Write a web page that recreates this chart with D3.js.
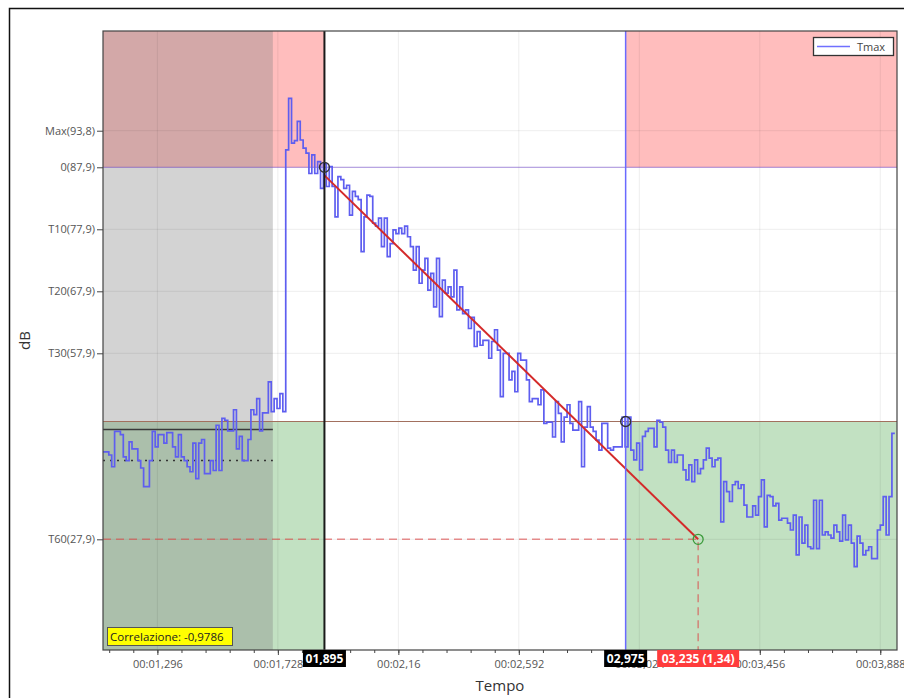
<!DOCTYPE html>
<html>
<head>
<meta charset="UTF-8">
<title>Tmax</title>
<script src="https://cdn.jsdelivr.net/npm/d3@7"></script>
<style>
  body { margin: 0; background: #fff; }
  svg text { font-family: "Open Sans", "Noto Sans", sans-serif; }
</style>
</head>
<body>
<svg id="chart" width="904" height="698"></svg>
<script>
// Tmax level in dB, one value per frame (step curve)
const noiseDb = [42.0, 42.0, 41.5, 39.6, 45.3, 45.3, 44.8, 41.2, 40.6, 43.6, 42.5, 42.5, 40.6, 39.4, 36.4, 36.4,
  40.6, 45.3, 42.8, 44.8, 44.8, 43.4, 45.1, 45.1, 42.8, 41.2, 44.8, 41.2, 40.6, 39.6, 38.8, 43.4, 37.7, 43.4,
  44.0, 38.5, 38.5, 40.6, 39.0, 46.3, 39.0, 47.4, 47.1, 45.4, 45.4, 48.8, 42.5, 44.5, 40.6, 40.6, 44.0, 48.8,
  48.0, 50.6, 45.4, 48.3, 48.3, 53.3, 48.5, 50.6, 49.0, 51.4, 48.5];
const onsetDb = [90.7, 99.0, 91.8, 92.2, 95.3, 92.3, 91.0, 90.2, 86.9, 89.9, 86.9, 88.8, 84.5, 88.5, 84.8, 88.0,
  84.8, 79.9, 86.4, 85.9, 84.5, 85.0, 80.2, 84.0, 83.2, 82.7, 74.3, 79.9, 83.4, 83.2, 78.9, 78.4, 79.7, 75.1,
  79.7, 73.5, 75.6, 77.8, 77.2, 78.1, 77.2, 78.4, 76.7, 75.1, 71.3, 75.1, 69.2, 71.3, 73.2, 68.1, 70.8, 65.4,
  73.2, 63.8, 69.7, 67.6, 68.6, 67.0, 71.3, 64.9, 68.6, 64.3, 64.9, 61.9];
const decayDb = [63.7, 59.0, 61.4, 59.2, 60.0, 60.0, 57.1, 59.8, 61.7, 58.4, 50.9, 57.9, 57.9, 53.6, 55.0, 51.7,
  57.9, 56.8, 56.8, 53.6, 50.1, 50.6, 50.6, 49.6, 52.0, 46.6, 46.8, 46.8, 44.4, 50.1, 48.2, 43.6, 47.6, 49.6,
  46.6, 45.5, 45.5, 50.1, 39.6, 46.0, 49.3, 46.0, 45.3, 43.9, 42.3, 46.6, 46.6, 42.6, 42.3, 42.8, 42.8, 42.8,
  47.6, 42.8, 47.6, 42.3, 40.7, 43.4, 39.1, 44.5, 45.3, 45.8, 45.8, 42.8, 47.1, 46.8, 46.0, 42.3, 40.3, 42.3,
  40.3, 41.5, 41.5, 39.1];
const tailDb = [37.5, 39.9, 37.2, 40.7, 38.5, 39.3, 40.7, 42.6, 41.0, 39.6, 40.7, 41.0, 30.7, 37.2, 35.6, 34.0,
  36.7, 37.2, 36.1, 36.7, 33.4, 31.5, 31.5, 33.3, 31.8, 34.8, 37.5, 29.9, 35.0, 34.8, 33.3, 33.7, 31.0, 31.3,
  31.3, 30.5, 29.4, 31.8, 25.4, 31.5, 27.3, 30.2, 26.7, 26.4, 34.2, 26.4, 34.2, 28.6, 29.1, 28.6, 28.1, 30.2,
  29.1, 27.6, 31.8, 27.8, 30.2, 27.3, 23.5, 28.4, 27.3, 25.4, 26.1, 26.7, 24.8, 24.8, 29.4, 30.2, 34.8, 28.6,
  34.8, 45.0];
const frameStart = 1.101, frameStep = 0.0104;

const yTickValues = [93.8, 87.9, 77.9, 67.9, 57.9, 27.9];
const yTickLabels = ["Max(93,8)", "0(87,9)", "T10(77,9)", "T20(67,9)", "T30(57,9)", "T60(27,9)"];
const xTickValues = [1.296, 1.728, 2.16, 2.592, 3.024, 3.456, 3.888];
const xTickLabels = ["00:01,296", "00:01,728", "00:02,16", "00:02,592", "00:03,024", "00:03,456", "00:03,888"];

const cursorStart = 1.895, cursorEnd = 2.975, t60End = 3.235;
const refLevel = 87.9, endLevel = 46.9, t60Level = 27.9;
const noiseEnd = 1.71, noiseHigh = 45.6, noiseLow = 40.6;
const regStart = [1.895, 86.6], regEnd = [3.235, 27.9];
const cursorLabels = ["01,895", "02,975", "03,235 (1,34)"];
const corrLabel = "Correlazione: -0,9786";

const plotL = 103, plotR = 897, plotT = 31, plotB = 650;

const svg = d3.select("#chart");
const x = d3.scaleLinear().domain([1.101, 3.948]).range([plotL, plotR]);
const y = d3.scaleLinear().domain([10.05, 109.88]).range([plotB, plotT]);

// outer frame
svg.append("rect").attr("x", 9.5).attr("y", 8.5).attr("width", 1000).attr("height", 1000)
  .attr("fill", "none").attr("stroke", "#111").attr("stroke-width", 1.5);

svg.append("clipPath").attr("id", "plot").append("rect")
  .attr("x", plotL).attr("y", plotT).attr("width", plotR - plotL).attr("height", plotB - plotT);
const g = svg.append("g").attr("clip-path", "url(#plot)");

// shaded zones
const zones = [
  [x.domain()[0], cursorStart, refLevel, y.domain()[1], "rgba(255,0,0,0.26)"],
  [cursorEnd, x.domain()[1], refLevel, y.domain()[1], "rgba(255,0,0,0.26)"],
  [x.domain()[0], cursorStart, y.domain()[0], endLevel, "rgba(0,128,0,0.24)"],
  [cursorEnd, x.domain()[1], y.domain()[0], endLevel, "rgba(0,128,0,0.24)"],
  [x.domain()[0], noiseEnd, y.domain()[0], y.domain()[1], "rgba(128,128,128,0.35)"]
];
g.selectAll("rect.zone").data(zones).enter().append("rect").attr("class", "zone")
  .attr("x", d => x(d[0])).attr("width", d => x(d[1]) - x(d[0]))
  .attr("y", d => y(d[3])).attr("height", d => y(d[2]) - y(d[3]))
  .attr("fill", d => d[4]);

// grid
g.selectAll("line.gy").data(yTickValues).enter().append("line")
  .attr("x1", plotL).attr("x2", plotR).attr("y1", d => y(d)).attr("y2", d => y(d))
  .attr("stroke", "rgba(0,0,0,0.07)");
g.selectAll("line.gx").data(xTickValues).enter().append("line")
  .attr("y1", plotT).attr("y2", plotB).attr("x1", d => x(d)).attr("x2", d => x(d))
  .attr("stroke", "rgba(0,0,0,0.07)");

// level lines
g.append("line").attr("x1", plotL).attr("x2", plotR).attr("y1", y(refLevel)).attr("y2", y(refLevel))
  .attr("stroke", "rgba(120,80,210,0.6)");
g.append("line").attr("x1", plotL).attr("x2", plotR).attr("y1", y(endLevel)).attr("y2", y(endLevel))
  .attr("stroke", "#a2705e").attr("stroke-width", 1.2);
g.append("line").attr("x1", plotL).attr("x2", x(noiseEnd)).attr("y1", y(noiseHigh)).attr("y2", y(noiseHigh))
  .attr("stroke", "#3a3a3a").attr("stroke-width", 1.5);
g.append("line").attr("x1", plotL).attr("x2", x(noiseEnd)).attr("y1", y(noiseLow)).attr("y2", y(noiseLow))
  .attr("stroke", "#333").attr("stroke-width", 1.5).attr("stroke-dasharray", "2,5");
g.append("path")
  .attr("d", `M${plotL},${y(t60Level)}H${x(t60End)}V${plotB}`)
  .attr("fill", "none").attr("stroke", "rgba(220,70,70,0.6)").attr("stroke-width", 1.5)
  .attr("stroke-dasharray", "8,5");

// Tmax step curve
const levels = noiseDb.concat(onsetDb, decayDb, tailDb);
const frames = levels.map((v, i) => ({ t: frameStart + i * frameStep, v }));
frames.push({ t: frameStart + levels.length * frameStep, v: levels[levels.length - 1] });
g.append("path").datum(frames)
  .attr("d", d3.line().x(d => x(d.t)).y(d => y(d.v)).curve(d3.curveStepAfter))
  .attr("fill", "none").attr("stroke", "#5e5ef0").attr("stroke-width", 1.7)
  .attr("stroke-linejoin", "miter");

// regression
g.append("line").attr("x1", x(regStart[0])).attr("y1", y(regStart[1]))
  .attr("x2", x(regEnd[0])).attr("y2", y(regEnd[1]))
  .attr("stroke", "#d42a2a").attr("stroke-width", 2);

// cursors
g.append("line").attr("x1", x(cursorStart)).attr("x2", x(cursorStart)).attr("y1", plotT).attr("y2", plotB)
  .attr("stroke", "#1a1a1a").attr("stroke-width", 2);
g.append("line").attr("x1", x(cursorEnd)).attr("x2", x(cursorEnd)).attr("y1", plotT).attr("y2", plotB)
  .attr("stroke", "#6a6aff").attr("stroke-width", 1.5);

// markers
const markers = [[cursorStart, refLevel, "#333"], [cursorEnd, endLevel, "#333"], [t60End, t60Level, "#3a9a3a"]];
g.selectAll("circle").data(markers).enter().append("circle")
  .attr("cx", d => x(d[0])).attr("cy", d => y(d[1])).attr("r", 5)
  .attr("fill", "none").attr("stroke", d => d[2]).attr("stroke-width", 1.3);

// plot border
svg.append("rect").attr("x", plotL).attr("y", plotT).attr("width", plotR - plotL).attr("height", plotB - plotT)
  .attr("fill", "none").attr("stroke", "#444").attr("stroke-width", 1.2);

// axes
svg.append("g").attr("transform", `translate(${plotL},0)`)
  .call(d3.axisLeft(y).tickValues(yTickValues).tickFormat((d, i) => yTickLabels[i]).tickSize(6).tickPadding(2));
const minorTicks = d3.range(xTickValues[0] - 2 * 0.0864, x.domain()[1], 0.0864);
svg.append("g").attr("transform", `translate(0,${plotB})`)
  .call(d3.axisBottom(x).tickValues(minorTicks).tickFormat("").tickSize(3));
svg.append("g").attr("transform", `translate(0,${plotB})`)
  .call(d3.axisBottom(x).tickValues(xTickValues).tickFormat((d, i) => xTickLabels[i]).tickSize(5).tickPadding(5));
svg.selectAll(".domain").remove();
svg.selectAll(".tick line").attr("stroke", "#444");
svg.selectAll(".tick text").attr("fill", "#555").style("font-size", "11px");

svg.append("text").attr("x", (plotL + plotR) / 2).attr("y", 691).attr("text-anchor", "middle")
  .style("font-size", "15px").attr("fill", "#333").text("Tempo");
svg.append("text").attr("transform", `translate(30,${(plotT + plotB) / 2}) rotate(-90)`)
  .attr("text-anchor", "middle").style("font-size", "15px").attr("fill", "#333").text("dB");

// cursor value boxes
const boxes = [
  [cursorStart, 43, "#000", cursorLabels[0]],
  [cursorEnd, 43, "#000", cursorLabels[1]],
  [t60End, 82, "#ff3c3c", cursorLabels[2]]
];
const bx = svg.selectAll("g.box").data(boxes).enter().append("g").attr("class", "box");
bx.append("rect").attr("x", d => x(d[0]) - d[1] / 2).attr("y", plotB).attr("width", d => d[1]).attr("height", 17)
  .attr("fill", d => d[2]);
bx.append("text").attr("x", d => x(d[0])).attr("y", plotB + 13).attr("text-anchor", "middle")
  .attr("fill", "#fff").style("font-size", "12px").style("font-weight", "700").text(d => d[3]);

// correlation tag
svg.append("rect").attr("x", 107.5).attr("y", 627.5).attr("width", 125).attr("height", 18)
  .attr("fill", "#ffff00").attr("stroke", "#555");
svg.append("text").attr("x", 110).attr("y", 641).style("font-size", "11.5px").attr("fill", "#222").text(corrLabel);

// legend
svg.append("rect").attr("x", 813.5).attr("y", 37.5).attr("width", 80).attr("height", 18)
  .attr("fill", "#fff").attr("stroke", "#333").attr("stroke-width", 1.3);
svg.append("line").attr("x1", 817).attr("x2", 850).attr("y1", 46.5).attr("y2", 46.5)
  .attr("stroke", "#7070ff").attr("stroke-width", 1.5);
svg.append("text").attr("x", 857).attr("y", 50.5).style("font-size", "11px").attr("fill", "#444").text("Tmax");
</script>
</body>
</html>
